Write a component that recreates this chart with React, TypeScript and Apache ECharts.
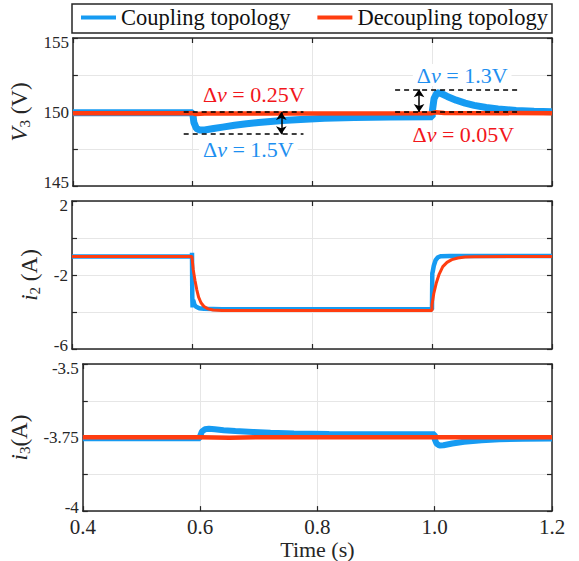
import React, { useEffect, useRef } from "react";
import * as echarts from "echarts";

// ---------- data ----------
const X_TICKS = [0.4, 0.6, 0.8, 1.0, 1.2];
const SERIES_NAMES = ["Coupling topology", "Decoupling topology"];

// Panel 1: V3 (V)
const v3Coupling: number[][] = [
  [0.4, 149.95], [0.6, 149.95], [0.602, 149.3], [0.606, 148.9], [0.612, 148.78],
  [0.62, 148.78], [0.635, 148.88], [0.65, 148.98], [0.67, 149.1], [0.69, 149.2],
  [0.71, 149.29], [0.73, 149.36], [0.75, 149.42], [0.78, 149.5], [0.82, 149.57],
  [0.87, 149.62], [0.93, 149.66], [1.0, 149.68], [1.0, 150.0], [1.003, 150.9],
  [1.008, 151.3], [1.015, 151.25], [1.025, 151.05], [1.04, 150.8], [1.055, 150.6],
  [1.07, 150.45], [1.09, 150.3], [1.11, 150.2], [1.14, 150.1], [1.17, 150.05], [1.2, 150.02],
];
const v3Decoupling: number[][] = [
  [0.4, 149.92], [0.6, 149.92], [0.605, 149.86], [0.62, 149.9], [1.0, 149.92],
  [1.005, 149.98], [1.02, 149.93], [1.2, 149.92],
];

// Panel 2: i2 (A)
const i2Coupling: number[][] = [
  [0.4, -1.0], [0.6, -1.0], [0.6, -0.8], [0.6005, -3.2], [0.601, -3.75], [0.602, -3.35],
  [0.604, -3.6], [0.607, -3.72], [0.612, -3.8], [0.62, -3.83], [0.65, -3.85], [1.0, -3.85],
  [1.0, -3.8], [1.0005, -1.9], [1.001, -1.85], [1.003, -1.5], [1.006, -1.2], [1.01, -1.04],
  [1.015, -0.98], [1.03, -0.97], [1.2, -0.97],
];
const i2Decoupling: number[][] = [
  [0.4, -1.0], [0.6, -1.0], [0.6, -1.05], [0.602, -1.7], [0.605, -2.3], [0.608, -2.8],
  [0.611, -3.2], [0.615, -3.5], [0.62, -3.7], [0.627, -3.83], [0.635, -3.89], [0.65, -3.92],
  [1.0, -3.92], [1.0, -3.6], [1.003, -3.0], [1.007, -2.45], [1.012, -1.95], [1.018, -1.55],
  [1.025, -1.32], [1.033, -1.17], [1.043, -1.08], [1.055, -1.03], [1.07, -1.01], [1.2, -1.0],
];

// Panel 3: i3 (A)
const i3Coupling: number[][] = [
  [0.4, -3.752], [0.6, -3.752], [0.6, -3.745], [0.603, -3.73], [0.608, -3.722], [0.615, -3.72],
  [0.625, -3.722], [0.64, -3.725], [0.66, -3.728], [0.69, -3.731], [0.72, -3.734], [0.76, -3.736],
  [0.82, -3.738], [0.9, -3.739], [1.0, -3.739], [1.0, -3.755], [1.003, -3.77], [1.008, -3.777],
  [1.015, -3.776], [1.03, -3.77], [1.05, -3.764], [1.08, -3.759], [1.11, -3.756], [1.15, -3.754],
  [1.2, -3.753],
];
const i3Decoupling: number[][] = [
  [0.4, -3.749], [0.6, -3.749], [0.65, -3.751], [0.7, -3.749], [1.0, -3.749], [1.2, -3.749],
];

// Annotations (panel 1)
const dashLevels = [
  { x0: 0.585, x1: 0.785, y: 150.0 },
  { x0: 0.585, x1: 0.785, y: 148.5 },
  { x0: 0.938, x1: 1.142, y: 151.53 },
  { x0: 0.938, x1: 1.142, y: 150.0 },
];
const arrows = [
  { x: 0.748, y0: 150.0, y1: 148.5 },
  { x: 0.978, y0: 151.53, y1: 150.0 },
];
const notes = [
  { x: 0.702, y: 151.15, text: " = 0.25V", kind: "red" },
  { x: 0.693, y: 147.5, text: " = 1.5V", kind: "blue" },
  { x: 1.05, y: 152.5, text: " = 1.3V", kind: "blue" },
  { x: 1.052, y: 148.45, text: " = 0.05V", kind: "red" },
];

// ---------- styles ----------
const BLUE = "#169BF2";
const RED = "#FF3D10";
const TXT_RED = "#F2161B";
const TXT_BLUE = "#1E8FF0";
const INK = "#262626";
const FONT = "Liberation Serif";

export default function App() {
  const ref = useRef<HTMLDivElement>(null);

  useEffect(() => {
    if (!ref.current) return;
    const chart = echarts.init(ref.current, undefined, { renderer: "svg" });

    const grids = [
      { left: 72, right: 27, top: 38, height: 148 },
      { left: 72, right: 27, top: 201, height: 148 },
      { left: 72, right: 27, top: 364, height: 149 },
    ];

    const edge = (v: number, min: number, max: number) => {
      const s = String(v);
      if (Math.abs(v - max) < 1e-9) return "{top|" + s + "}";
      if (Math.abs(v - min) < 1e-9) return "{bot|" + s + "}";
      return "{mid|" + s + "}";
    };

    const yCfg = [
      { min: 145, max: 155, interval: 2.5, show: (v: number) => Math.abs(v % 5) < 1e-6,
        name: "{i|V}{s|3}{n| (V)}" },
      { min: -6, max: 2, interval: 2, show: (v: number) => Math.abs((v + 6) % 4) < 1e-6,
        name: "{i|i}{s|2}{n| (A)}" },
      { min: -4, max: -3.5, interval: 0.125, show: (v: number) => Math.round(v * 8) % 2 === 0,
        name: "{i|i}{s|3}{n|(A)}" },
    ];

    const axisLine = { show: true, onZero: false, lineStyle: { color: INK, width: 1.5 } };
    const axisTick = { show: true, inside: true, length: 5, lineStyle: { color: INK, width: 1.2 } };
    const splitLine = { show: true, lineStyle: { color: "#e6e6e6", width: 1 } };
    const tickRich = {
      top: { fontSize: 17, fontFamily: FONT, color: INK, padding: [8, 0, 0, 0] },
      bot: { fontSize: 17, fontFamily: FONT, color: INK, padding: [0, 0, 8, 0] },
      mid: { fontSize: 17, fontFamily: FONT, color: INK },
    };

    const xAxis: any[] = [];
    const yAxis: any[] = [];
    grids.forEach((_, i) => {
      xAxis.push({
        type: "value", gridIndex: i, min: 0.4, max: 1.2, interval: 0.2, position: "bottom",
        axisLine, axisTick, splitLine,
        axisLabel: {
          show: i === 2, margin: 5, fontSize: 21, fontFamily: FONT, color: INK,
          formatter: (v: number) => v.toFixed(1),
        },
        name: i === 2 ? "Time (s)" : "",
        nameLocation: "middle", nameGap: 22,
        nameTextStyle: { fontSize: 22, fontFamily: FONT, color: INK, fontWeight: "normal" },
      });
      xAxis.push({
        type: "value", gridIndex: i, min: 0.4, max: 1.2, interval: 0.2, position: "top",
        axisLine, axisTick, splitLine: { show: false }, axisLabel: { show: false },
      });
      const c = yCfg[i];
      yAxis.push({
        type: "value", gridIndex: i, min: c.min, max: c.max, interval: c.interval, position: "left",
        axisLine, axisTick, splitLine,
        axisLabel: {
          show: true, margin: 4, fontSize: 17, fontFamily: FONT, color: INK,
          formatter: (v: number) => (c.show(v) ? edge(v, c.min, c.max) : ""),
          rich: tickRich, showMinLabel: true, showMaxLabel: true,
        },
        name: c.name, nameLocation: "middle", nameGap: 30,
        nameTextStyle: {
          fontFamily: FONT, color: INK,
          rich: {
            i: { fontSize: 23, fontStyle: "italic", fontFamily: FONT, color: INK, lineHeight: 26 },
            s: { fontSize: 15, fontFamily: FONT, color: INK, verticalAlign: "bottom", lineHeight: 15 },
            n: { fontSize: 23, fontFamily: FONT, color: INK, lineHeight: 26 },
          },
        },
      });
      yAxis.push({
        type: "value", gridIndex: i, min: c.min, max: c.max, interval: c.interval, position: "right",
        axisLine, axisTick, splitLine: { show: false }, axisLabel: { show: false },
      });
    });

    const mkLine = (name: string, data: number[][], grid: number, color: string, width: number, extra: any = {}) => ({
      type: "line", name, data, xAxisIndex: grid * 2, yAxisIndex: grid * 2,
      showSymbol: false, symbol: "none", lineStyle: { color, width }, itemStyle: { color },
      ...extra,
    });

    const noteRich = (color: string) => ({
      d: { fontSize: 22, fontFamily: FONT, color },
      v: { fontSize: 22, fontFamily: FONT, color, fontStyle: "italic" },
    });

    const series: any[] = [
      mkLine(SERIES_NAMES[0], v3Coupling, 0, BLUE, 7, {
        markLine: {
          silent: true, symbol: ["arrow", "arrow"], symbolSize: [8, 8],
          lineStyle: { color: "#000", width: 1.5, type: "solid" },
          label: { show: false },
          data: arrows.map((a) => [{ coord: [a.x, a.y0] }, { coord: [a.x, a.y1] }]),
        },
        markPoint: {
          silent: true, symbol: "circle", symbolSize: 1, itemStyle: { color: "rgba(0,0,0,0)" },
          data: notes.map((n) => {
            const color = n.kind === "red" ? TXT_RED : TXT_BLUE;
            return {
              coord: [n.x, n.y],
              label: {
                show: true, position: "inside",
                formatter: "{d|Δ}{v|v}{d|" + n.text + "}",
                rich: noteRich(color),
                backgroundColor: n.kind === "blue" ? "#fff" : "transparent",
                padding: [0, 4],
              },
            };
          }),
        },
      }),
      mkLine(SERIES_NAMES[1], v3Decoupling, 0, RED, 4.5, {
        markLine: {
          silent: true, symbol: ["none", "none"],
          lineStyle: { color: "#000", width: 1.5, type: [5, 4] },
          label: { show: false },
          data: dashLevels.map((d) => [{ coord: [d.x0, d.y] }, { coord: [d.x1, d.y] }]),
        },
      }),
      mkLine(SERIES_NAMES[0], i2Coupling, 1, BLUE, 4.5),
      mkLine(SERIES_NAMES[1], i2Decoupling, 1, RED, 3),
      mkLine(SERIES_NAMES[0], i3Coupling, 2, BLUE, 6),
      mkLine(SERIES_NAMES[1], i3Decoupling, 2, RED, 4.5),
    ];

    chart.setOption({
      animation: false,
      backgroundColor: "#fff",
      textStyle: { fontFamily: FONT },
      grid: grids,
      xAxis,
      yAxis,
      series,
      legend: {
        data: SERIES_NAMES,
        left: 81, top: 6, itemGap: 27, itemWidth: 35, itemHeight: 4,
        icon: "rect", selectedMode: false, padding: 0,
        textStyle: { fontSize: 22.5, fontFamily: FONT, color: "#111" },
      },
      graphic: [
        {
          type: "rect", z: 0,
          shape: { x: 72, y: 4, width: 480, height: 29 },
          style: { fill: "#fff", stroke: INK, lineWidth: 1.5 },
        },
      ],
    });

    return () => chart.dispose();
  }, []);

  return (
    <div
      ref={ref}
      style={{ position: "fixed", left: 0, top: 0, width: 579, height: 561, background: "#fff" }}
    />
  );
}
